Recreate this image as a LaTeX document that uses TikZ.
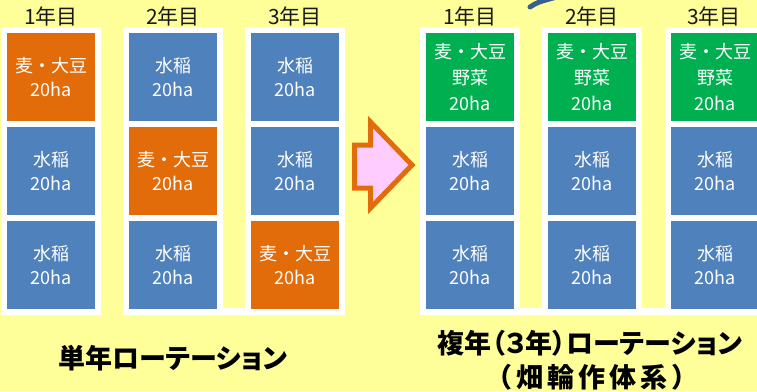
\documentclass[tikz,border=0pt]{standalone}
\usepackage{fontspec}
\newfontfamily\cjk{Noto Sans CJK JP}
\newfontfamily\cjkp{Noto Sans CJK JP}[RawFeature=+palt]
\newcommand\mygap{\kern4pt}
\definecolor{bgyellow}{RGB}{255,255,153}
\definecolor{riceblue}{RGB}{79,129,189}
\definecolor{wheatorange}{RGB}{227,108,10}
\definecolor{veggreen}{RGB}{0,176,80}
\definecolor{arrowpink}{RGB}{255,204,255}
\definecolor{strokeblue}{RGB}{59,94,145}
\definecolor{labelblack}{RGB}{25,25,25}
\begin{document}
\begin{tikzpicture}[x=1pt,y=-1pt,
  cell/.style={minimum width=88pt,minimum height=88pt,inner sep=0pt,text=white,align=center,font=\cjk\fontsize{18}{24}\selectfont},
  rice/.style={cell,fill=riceblue},
  wheat/.style={cell,fill=wheatorange},
  veg/.style={cell,fill=veggreen,font=\cjk\fontsize{18}{26}\selectfont},
  colframe/.style={fill=white},
  yearlabel/.style={inner sep=0pt,text=labelblack,font=\cjk\fontsize{21}{24}\selectfont},
  titletext/.style={inner sep=0pt,text=black,font=\cjkp\bfseries\fontsize{27}{32}\selectfont},
  subtitletext/.style={inner sep=0pt,text=black,font=\cjk\bfseries\fontsize{27}{32}\selectfont},
  bigarrow/.style={fill=arrowpink,draw=wheatorange,line width=5pt,miter limit=10}
]
\useasboundingbox (0,0) rectangle (757,391);
\clip (0,0) rectangle (757,391);
\fill[bgyellow] (0,0) rectangle (757,391);
% white column frames
\fill[colframe] (1,27) rectangle (101,315);
\fill[colframe] (123,27) rectangle (223,315);
\fill[colframe] (245,27) rectangle (345,315);
\fill[colframe] (123,308) rectangle (345,315);
\fill[colframe] (420,27) rectangle (520,315);
\fill[colframe] (542,27) rectangle (642,315);
\fill[colframe] (665,27) rectangle (765,315);
\fill[colframe] (420,308) rectangle (765,315);
% year labels
\node[yearlabel] (ly1) at (51,16) {1年目};
\node[yearlabel] (ly2) at (173,16) {2年目};
\node[yearlabel] (ly3) at (295,16) {3年目};
\node[yearlabel] (ry1) at (470,16) {1年目};
\node[yearlabel] (ry2) at (592,16) {2年目};
\node[yearlabel] (ry3) at (714,16) {3年目};
% left cells
\node[wheat] (L1a) at (51,77) {麦・大豆\\20ha};
\node[rice]  (L1b) at (51,171) {水稲\\20ha};
\node[rice]  (L1c) at (51,265) {水稲\\20ha};
\node[rice]  (L2a) at (173,77) {水稲\\20ha};
\node[wheat] (L2b) at (173,171) {麦・大豆\\20ha};
\node[rice]  (L2c) at (173,265) {水稲\\20ha};
\node[rice]  (L3a) at (295,77) {水稲\\20ha};
\node[rice]  (L3b) at (295,171) {水稲\\20ha};
\node[wheat] (L3c) at (295,265) {麦・大豆\\20ha};
% right cells
\node[veg]  (R1a) at (470,77) {麦・大豆\\野菜\\20ha};
\node[rice] (R1b) at (470,171) {水稲\\20ha};
\node[rice] (R1c) at (470,265) {水稲\\20ha};
\node[veg]  (R2a) at (592,77) {麦・大豆\\野菜\\20ha};
\node[rice] (R2b) at (592,171) {水稲\\20ha};
\node[rice] (R2c) at (592,265) {水稲\\20ha};
\node[veg]  (R3a) at (715,77) {麦・大豆\\野菜\\20ha};
\node[rice] (R3b) at (715,171) {水稲\\20ha};
\node[rice] (R3c) at (715,265) {水稲\\20ha};
% big arrow
\draw[bigarrow] (354.5,145) -- (370.5,145) -- (370.5,122) -- (412,165) -- (370.5,208) -- (370.5,188) -- (354.5,188) -- cycle;
% blue stroke fragment at top
\draw[strokeblue,line width=5pt,line cap=round] (530,7) .. controls (538,2) .. (557,-3);
% titles
\node[titletext] (tl) at (173,358) {単年ローテーション};
\node[titletext] (tr1) at (590,343) {複年（３年）ローテーション};
\node[subtitletext] (tr2) at (592,377) {（\mygap 畑\mygap 輪\mygap 作\mygap 体\mygap 系\mygap ）};
\end{tikzpicture}
\end{document}
